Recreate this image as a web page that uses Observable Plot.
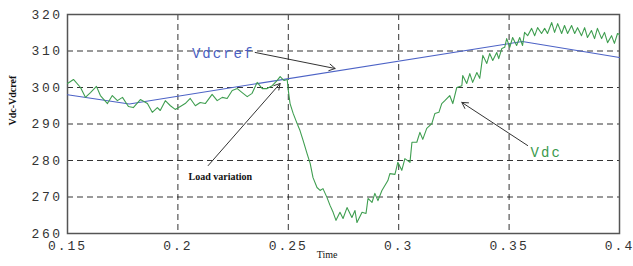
<!DOCTYPE html>
<html><head><meta charset="utf-8">
<script src="https://cdn.jsdelivr.net/npm/d3@7"></script>
<script src="https://cdn.jsdelivr.net/npm/@observablehq/plot@0.6"></script>
<style>
body{margin:0;background:#fff}
g[aria-label="x-axis tick label"] text{letter-spacing:2px}
g[aria-label="y-axis tick label"] text{letter-spacing:2.5px}
.mono text{letter-spacing:2px}
</style></head><body><div id="c"></div>
<script>
// Vdc (green)
const vdcT=[0.1500,0.1527,0.1559,0.1581,0.1604,0.1631,0.1649,0.1681,0.1703,0.1726,0.1749,0.1776,0.1798,0.1830,0.1862,0.1884,0.1907,0.1920,0.1943,0.1966,0.1988,0.2011,0.2033,0.2056,0.2079,0.2101,0.2124,0.2155,0.2178,0.2201,0.2223,0.2246,0.2269,0.2291,0.2314,0.2336,0.2359,0.2382,0.2404,0.2427,0.2449,0.2463,0.2481,0.2495,0.2500,0.2508,0.2522,0.2540,0.2553,0.2567,0.2585,0.2599,0.2612,0.2630,0.2644,0.2657,0.2675,0.2689,0.2703,0.2716,0.2734,0.2748,0.2766,0.2788,0.2802,0.2811,0.2834,0.2852,0.2861,0.2879,0.2892,0.2906,0.2924,0.2951,0.2960,0.2983,0.2996,0.3014,0.3028,0.3051,0.3060,0.3082,0.3096,0.3109,0.3127,0.3150,0.3164,0.3182,0.3195,0.3209,0.3231,0.3245,0.3263,0.3286,0.3290,0.3308,0.3322,0.3335,0.3354,0.3367,0.3381,0.3399,0.3412,0.3426,0.3444,0.3453,0.3467,0.3480,0.3489,0.3503,0.3516,0.3534,0.3548,0.3561,0.3570,0.3584,0.3602,0.3616,0.3629,0.3647,0.3661,0.3674,0.3693,0.3706,0.3720,0.3738,0.3751,0.3765,0.3783,0.3797,0.3810,0.3828,0.3842,0.3855,0.3873,0.3887,0.3900,0.3919,0.3932,0.3946,0.3964,0.3977,0.3991,0.4000];
const vdcV=[301.1,302.2,300.0,297.3,298.6,300.3,297.8,295.6,297.8,296.4,297.3,294.8,294.5,296.7,295.6,293.2,294.5,293.7,296.4,295.0,294.0,294.8,295.6,297.0,295.0,295.9,295.6,298.1,296.4,297.3,297.0,299.2,299.7,298.6,297.5,298.4,301.4,299.7,299.7,300.5,301.9,303.0,301.9,302.2,299.2,295.6,292.9,290.1,288.2,285.5,281.9,279.2,275.3,272.6,271.8,272.3,269.9,267.7,265.8,263.6,265.8,264.1,267.1,264.4,266.3,263.0,265.8,265.5,269.6,268.5,271.0,269.0,271.8,274.5,276.4,276.2,279.5,277.3,280.5,279.5,285.0,285.0,287.7,285.8,288.8,290.1,292.9,293.2,295.6,296.4,297.8,295.6,300.0,300.5,303.3,301.1,303.8,301.4,304.1,302.5,308.8,306.6,309.3,307.4,309.6,307.9,310.7,311.0,313.4,311.0,313.7,311.5,313.7,311.5,315.1,314.2,316.2,314.2,316.4,314.8,316.2,314.8,317.8,315.1,317.5,314.8,317.0,314.8,317.0,314.8,316.4,314.2,316.4,313.7,315.6,313.4,316.2,313.4,315.1,312.3,314.2,312.1,314.8,314.5];
// Vdcref (blue)
const refT=[0.15,0.178,0.356,0.4];
const refV=[298,295.5,312.6,308.2];
// ticks
const xTicks=[0.15,0.2,0.25,0.3,0.35,0.4];
const yTicks=[260,270,280,290,300,310,320];
const xGrid=[0.2,0.25,0.3,0.35];
const yGrid=[270,280,290,300,310];
// annotations
const labels=[
  {t:0.2205,v:309.3,text:"Vdcref",color:"#4a5fc2"},
  {t:0.3668,v:282.2,text:"Vdc",color:"#3a9a4c"}
];
const arrows=[
  {t1:0.2350,v1:309.6,t2:0.2712,v2:305.2},
  {t1:0.2137,v1:278.6,t2:0.2463,v2:301.1},
  {t1:0.3584,v1:284.1,t2:0.3286,v2:295.9}
];

const vdc=vdcT.map((t,i)=>({t,v:vdcV[i]}));
const ref=refT.map((t,i)=>({t,v:refV[i]}));

const chart=Plot.plot({
  width:633,height:266,
  marginLeft:67,marginRight:14,marginTop:14,marginBottom:33,
  style:{background:"#fff",fontFamily:"Liberation Mono",fontSize:"13px",color:"#333"},
  x:{domain:[0.15,0.4]},
  y:{domain:[260,320]},
  marks:[
    Plot.gridX(xGrid,{stroke:"#111",strokeOpacity:0.85,strokeDasharray:"6,4"}),
    Plot.gridY(yGrid,{stroke:"#111",strokeOpacity:0.85,strokeDasharray:"6,4"}),
    Plot.frame({stroke:"#555",strokeWidth:1.5}),
    Plot.axisX(xTicks,{tickSize:0,tickPadding:7,tickFormat:d=>String(d),label:null,fontSize:13,fontFamily:"Liberation Mono"}),
    Plot.axisY(yTicks,{tickSize:0,tickPadding:5,tickFormat:d=>String(d),label:null,fontSize:13,fontFamily:"Liberation Mono"}),
    Plot.line(ref,{x:"t",y:"v",stroke:"#4d63c6",strokeWidth:1.1}),
    Plot.line(vdc,{x:"t",y:"v",stroke:"#3f9e50",strokeWidth:1.1}),
    Plot.arrow(arrows,{x1:"t1",y1:"v1",x2:"t2",y2:"v2",stroke:"#333",strokeWidth:1,headLength:10}),
    Plot.text(labels,{x:"t",y:"v",text:"text",fill:"color",fontSize:14,fontFamily:"Liberation Mono",className:"mono"}),
    Plot.text(["Load variation"],{x:()=>0.2192,y:()=>275.6,text:d=>d,fontFamily:"Liberation Serif",fontWeight:"bold",fontSize:10,fill:"#111"}),
    Plot.text(["Time"],{x:()=>0.2676,frameAnchor:"bottom",dy:24,text:d=>d,fontFamily:"Liberation Serif",fontSize:10,fill:"#111"}),
    Plot.text(["Vdc-Vdcref"],{y:()=>289.6,frameAnchor:"left",dx:-55,rotate:-90,text:d=>d,fontFamily:"Liberation Serif",fontWeight:"bold",fontSize:10,fill:"#111"})
  ]
});
document.getElementById("c").appendChild(chart);
</script></body></html>
